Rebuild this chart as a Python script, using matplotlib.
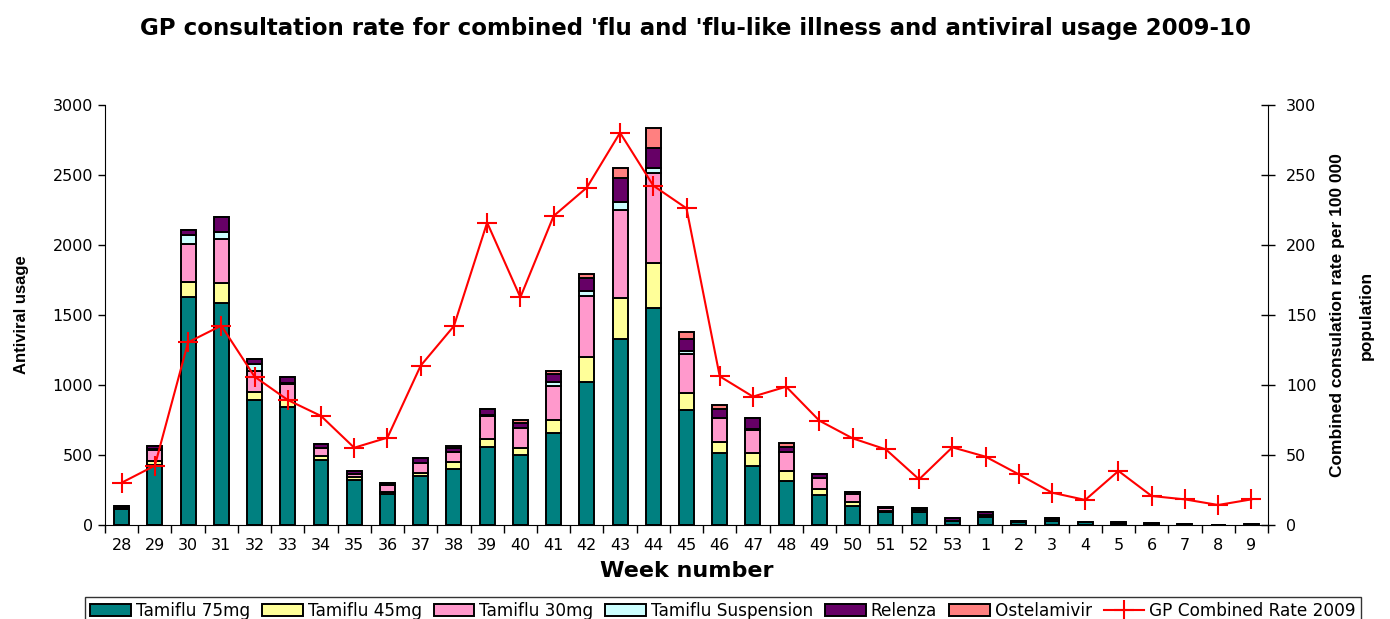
import numpy as np
import matplotlib.pyplot as plt

plt.rcParams['font.family'] = ['DejaVu Sans']

weeks = [str(w) for w in range(28, 54)] + [str(w) for w in range(1, 10)]

tamiflu_75 = [115, 430, 1630, 1588, 893, 845, 464, 321, 221, 350, 398, 555, 500, 659,
              1019, 1329, 1548, 821, 517, 421, 314, 214, 138, 95, 91, 30, 60,
              25, 30, 18, 15, 10, 4, 0, 4]
tamiflu_45 = [5, 25, 107, 138, 57, 48, 29, 24, 17, 19, 55, 60, 48, 90,
              183, 295, 321, 124, 74, 90, 74, 43, 24, 8, 5, 0, 2,
              0, 0, 0, 0, 0, 0, 0, 0]
tamiflu_30 = [0, 80, 267, 317, 152, 114, 55, 19, 48, 76, 71, 164, 143, 245,
              433, 626, 643, 276, 171, 167, 136, 81, 60, 17, 14, 0, 10,
              0, 0, 0, 0, 0, 0, 0, 0]
tamiflu_susp = [3, 10, 70, 52, 45, 10, 5, 2, 0, 0, 0, 10, 0, 29,
                38, 60, 36, 24, 0, 5, 0, 0, 0, 0, 0, 0, 0,
                0, 10, 0, 0, 0, 0, 0, 0]
relenza = [12, 20, 30, 107, 38, 43, 26, 19, 17, 36, 29, 40, 36, 55,
           88, 171, 143, 83, 64, 79, 31, 24, 11, 12, 14, 18, 19,
           6, 8, 6, 6, 4, 1, 0, 1]
ostelamivir = [0, 0, 0, 0, 0, 0, 0, 0, 0, 0, 14, 0, 24, 19,
               29, 71, 148, 48, 31, 0, 29, 0, 0, 0, 0, 0, 0,
               0, 0, 0, 0, 0, 0, 0, 0]
gp_rate = [30.2, 42.4, 130.5, 142.4, 106, 89.3, 77.9, 55.2, 62.4, 113.8, 142.1,
           216, 162.6, 220.7, 241, 280.2, 242.4, 226.2, 106.2, 91.7, 98.8, 74.5,
           61.9, 54, 32.6, 55.5, 48.8, 36.2, 23.1, 17.9, 38.6, 20.7, 18.3, 14.3, 18.3]

series = [
    ('Tamiflu 75mg', tamiflu_75, '#008080'),
    ('Tamiflu 45mg', tamiflu_45, '#FFFF99'),
    ('Tamiflu 30mg', tamiflu_30, '#FF99CC'),
    ('Tamiflu Suspension', tamiflu_susp, '#CCFFFF'),
    ('Relenza', relenza, '#660066'),
    ('Ostelamivir', ostelamivir, '#FF8080'),
]

fig = plt.figure(figsize=(13.9, 6.19), dpi=100)
ax = fig.add_axes([105 / 1390, 1 - 525 / 619, (1268 - 105) / 1390, 420 / 619])

x = np.arange(len(weeks))
bottom = np.zeros(len(weeks))
handles = []
for name, vals, col in series:
    vals = np.array(vals, dtype=float)
    b = ax.bar(x, vals, width=0.45, bottom=bottom, color=col, edgecolor='black',
               linewidth=1.4, label=name, zorder=2)
    handles.append(b)
    bottom += vals

ax.set_xlim(-0.5, len(weeks) - 0.5)
ax.set_ylim(0, 3000)
ax.set_yticks(np.arange(0, 3001, 500))
ax.set_xticks(x)
ax.set_xticklabels(weeks)
ax.set_xticks(np.arange(-0.5, len(weeks), 1), minor=True)
ax.tick_params(axis='x', which='major', length=0, labelsize=11.5, pad=9)
ax.tick_params(axis='x', which='minor', length=6, width=1, direction='out')
ax.tick_params(axis='y', labelsize=11.5, length=5, width=1, direction='out')
ax.spines['top'].set_visible(False)
ax.spines['right'].set_visible(False)
ax.set_ylabel('Antiviral usage', fontsize=12, fontweight='bold', labelpad=17,
              family=['Liberation Sans', 'DejaVu Sans'])
ax.set_xlabel('Week number', fontsize=16, fontweight='bold', labelpad=6)

ax2 = ax.twinx()
line, = ax2.plot(x, gp_rate, color='#FF0000', marker='+', markersize=14,
                 markeredgewidth=1.5, linewidth=1.5, label='GP Combined Rate 2009', zorder=3)
ax2.set_ylim(0, 300)
ax2.set_yticks(np.arange(0, 301, 50))
ax2.tick_params(axis='y', labelsize=11.5, length=10, width=1, direction='inout', pad=8)
ax2.spines['top'].set_visible(False)
ax2.spines['left'].set_visible(False)
ax2.spines['bottom'].set_visible(False)
ax2.set_ylabel("Combined consulation rate per 100 000\npopulation", fontsize=12.5,
               fontweight='bold', rotation=90, labelpad=10, linespacing=2.1,
               family=['Liberation Sans', 'DejaVu Sans'])

fig.text(0.5, 1 - 28 / 619, "GP consultation rate for combined 'flu and 'flu-like illness and antiviral usage 2009-10",
         ha='center', va='center', fontsize=16.5, fontweight='bold')

leg = fig.legend(handles + [line], [s[0] for s in series] + ['GP Combined Rate 2009'],
                 loc='lower center', bbox_to_anchor=(723 / 1390, -0.01), ncol=7, fontsize=12.2,
                 frameon=True, fancybox=False, edgecolor='black', handlelength=2.4,
                 handletextpad=0.3, columnspacing=0.7, borderpad=0.3, borderaxespad=0)
leg.get_frame().set_linewidth(1)

fig.savefig('out.png', dpi=100)
